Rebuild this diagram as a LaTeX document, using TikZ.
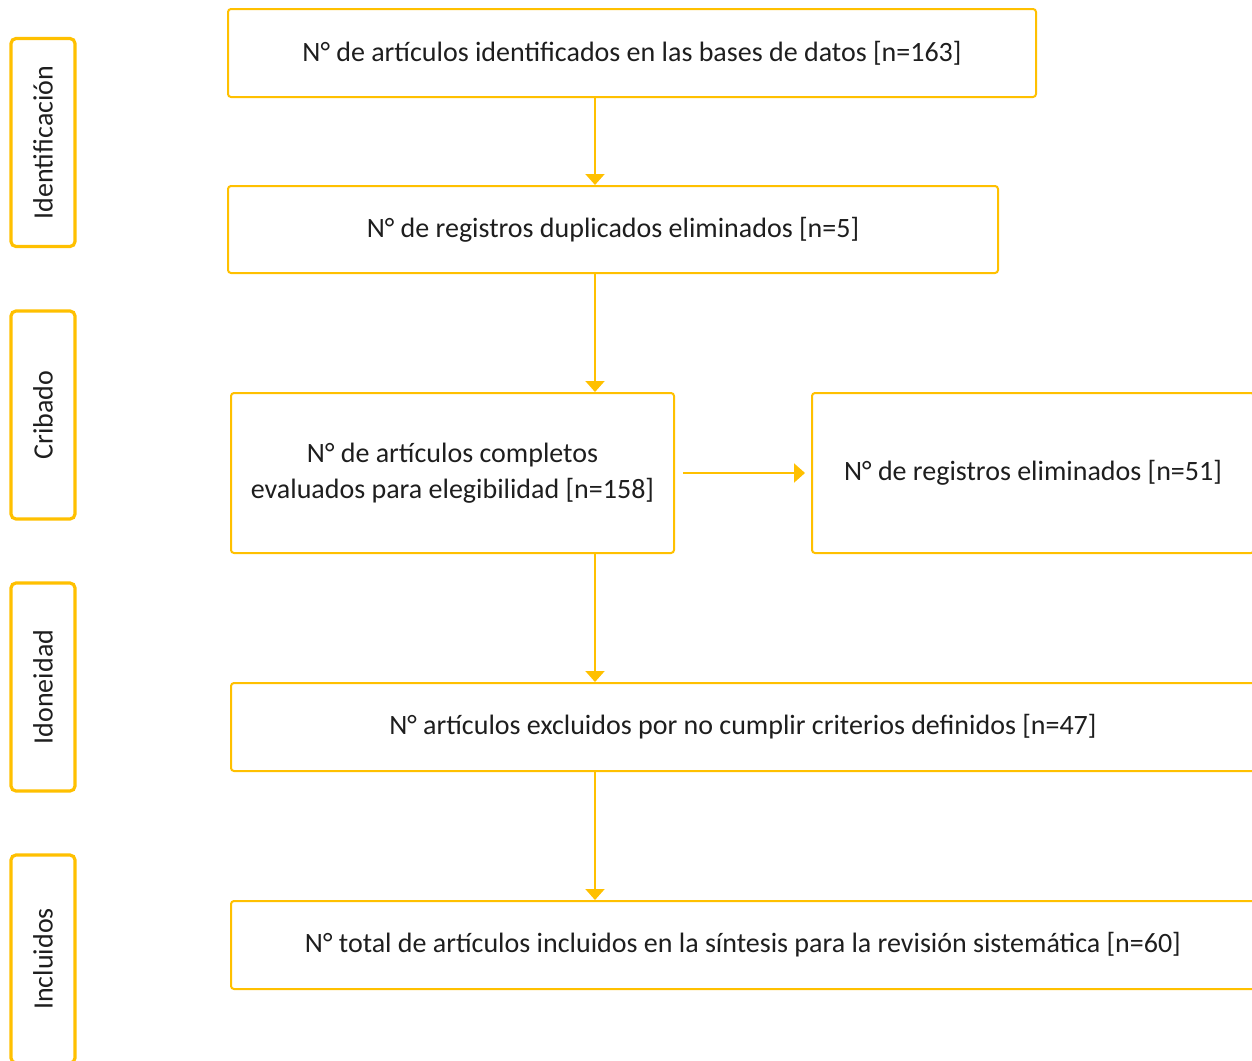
\documentclass[tikz,border=0pt]{standalone}
\usepackage{fontspec}
\setmainfont{Carlito}
\usetikzlibrary{arrows.meta,positioning}
\definecolor{prismagold}{RGB}{255,192,0}
\definecolor{textdark}{RGB}{30,30,30}

\tikzset{
  box/.style={draw=prismagold, line width=1pt, rounded corners=1.5pt, inner sep=0pt,
    align=center, text=textdark, font=\fontsize{14}{18}\selectfont},
  phase/.style={draw=prismagold, line width=1.6pt, rounded corners=2.5pt, inner sep=0pt,
    rotate=90, minimum width=104pt, minimum height=32pt, text=textdark,
    font=\fontsize{14}{16}\selectfont},
  flow/.style={draw=prismagold, line width=1pt, -{Triangle[width=9.5pt,length=5.5pt]}}
}

\begin{document}
\begin{tikzpicture}[x=0.5pt,y=-0.5pt]
  \useasboundingbox (0,0) rectangle (1252,1060);
  \clip (0,0) rectangle (1252,1060);

  % phases
  \node[phase] (idf) at (43,142.5) {Identificación};
  \node[phase] (crb) at (43,415)   {Cribado};
  \node[phase] (ido) at (43,687)   {Idoneidad};
  \node[phase] (inc) at (43,959)   {Incluidos};

  % boxes
  \node[box, minimum width=404pt, minimum height=44pt] (ident) at (632,53)
    {N° de artículos identificados en las bases de datos [n=163]};
  \node[box, minimum width=385pt, minimum height=43.5pt] (dupl) at (613,229.5)
    {N° de registros duplicados eliminados [n=5]};
  \node[box, minimum width=221.5pt, minimum height=80pt] (eval) at (452.5,473)
    {N° de artículos completos\\evaluados para elegibilidad [n=158]};
  \node[box, minimum width=221pt, minimum height=80pt] (elim) at (1033,473)
    {N° de registros eliminados [n=51]};
  \node[box, minimum width=512pt, minimum height=44pt] (excl) at (743,727)
    {N° artículos excluidos por no cumplir criterios definidos [n=47]};
  \node[box, minimum width=512pt, minimum height=44pt] (total) at (743,945)
    {N° total de artículos incluidos en la síntesis para la revisión sistemática [n=60]};

  \coordinate (spine) at (595,0);

  \draw[flow] (ident.south -| spine) -- (dupl.north -| spine);
  \draw[flow] (dupl.south -| spine)  -- (eval.north -| spine);
  \draw[flow] (eval.south -| spine)  -- (excl.north -| spine);
  \draw[flow] (excl.south -| spine)  -- (total.north -| spine);
  \draw[flow, shorten <=4pt, shorten >=3pt] (eval) -- (elim);
\end{tikzpicture}
\end{document}
